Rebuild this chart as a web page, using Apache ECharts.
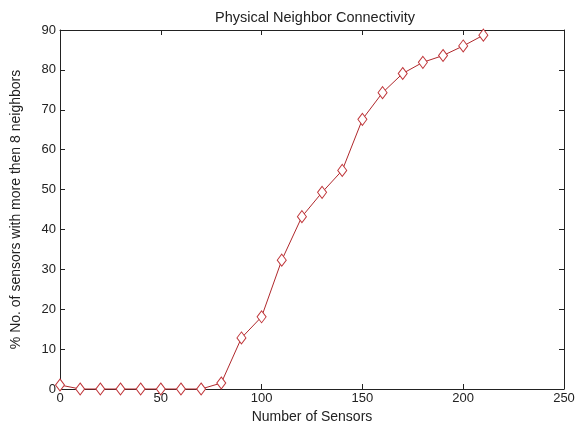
<!DOCTYPE html>
<html>
<head>
<meta charset="utf-8">
<script src="https://cdn.jsdelivr.net/npm/echarts@6/dist/echarts.min.js"></script>
<style>
  html, body { margin: 0; padding: 0; background: #fff; }
  #chart { width: 580px; height: 429px; }
</style>
</head>
<body>
<div id="chart"></div>
<script>
// data
const sensors = [0, 10, 20, 30, 40, 50, 60, 70, 80, 90, 100, 110, 120, 130, 140, 150, 160, 170, 180, 190, 200, 210];
const percent = [1.0, 0, 0, 0, 0, 0, 0, 0, 1.5, 12.8, 18.1, 32.3, 43.2, 49.3, 54.8, 67.6, 74.3, 79.1, 81.9, 83.6, 86.0, 88.7];
const xTicks = [0, 50, 100, 150, 200, 250];
const yTicks = [0, 10, 20, 30, 40, 50, 60, 70, 80, 90];

const chart = echarts.init(document.getElementById('chart'));
const font = 'Liberation Sans';
const axisLine = { show: true, onZero: false, lineStyle: { color: '#222', width: 1 } };
const tick = { show: true, inside: true, length: 5, lineStyle: { color: '#222' } };

chart.setOption({
  animation: false,
  backgroundColor: '#fff',
  title: {
    text: 'Physical Neighbor Connectivity',
    left: 310, top: 5, textAlign: 'center',
    textStyle: { fontFamily: font, fontSize: 14.5, fontWeight: 'normal', color: '#222' }
  },
  grid: { left: 60, right: 16, top: 30, bottom: 40 },
  xAxis: [
    {
      type: 'value', min: 0, max: 250, interval: 50,
      name: 'Number of Sensors', nameLocation: 'middle', nameGap: 21,
      nameTextStyle: { fontFamily: font, fontSize: 14, color: '#222' },
      axisLine, axisTick: tick, splitLine: { show: false },
      axisLabel: { fontFamily: font, fontSize: 13, color: '#222', margin: 3,
        formatter: v => xTicks.includes(v) ? String(v) : '' }
    },
    {
      type: 'value', position: 'top', min: 0, max: 250, interval: 50,
      axisLine, axisTick: tick, axisLabel: { show: false }, splitLine: { show: false }
    }
  ],
  yAxis: [
    {
      type: 'value', min: 0, max: 90, interval: 10,
      name: '% No. of sensors with more then 8 neighbors', nameLocation: 'middle', nameGap: 37,
      nameTextStyle: { fontFamily: font, fontSize: 14, color: '#222' },
      axisLine, axisTick: tick, splitLine: { show: false },
      axisLabel: { fontFamily: font, fontSize: 13, color: '#222', margin: 4,
        formatter: v => yTicks.includes(v) ? String(v) : '' }
    },
    {
      type: 'value', position: 'right', min: 0, max: 90, interval: 10,
      axisLine, axisTick: tick, axisLabel: { show: false }, splitLine: { show: false }
    }
  ],
  series: [{
    type: 'line',
    data: sensors.map((x, i) => [x, percent[i]]),
    symbol: 'diamond',
    symbolSize: [9, 12],
    lineStyle: { color: '#b0282c', width: 1 },
    itemStyle: { color: '#fff', borderColor: '#c0363a', borderWidth: 1 },
    clip: false
  }]
});
</script>
</body>
</html>
